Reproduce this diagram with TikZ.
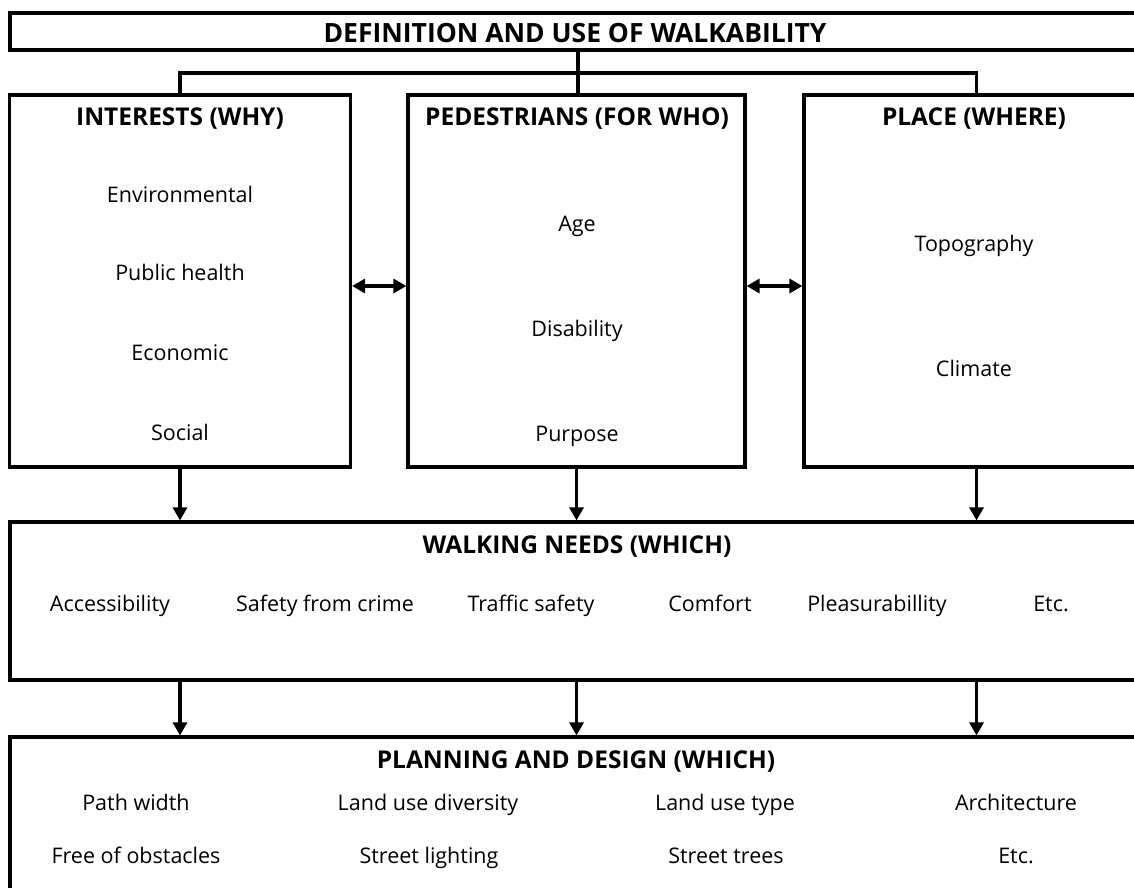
\documentclass[tikz,border=0pt]{standalone}
\usepackage{fontspec}
\setmainfont{Open Sans}
\usetikzlibrary{arrows.meta}
\begin{document}
\begin{tikzpicture}[x=1pt,y=-1pt,
  box/.style={draw,line width=3.2pt,inner sep=0pt},
  ttl/.style={font=\fontsize{24.5}{28}\selectfont\bfseries,inner sep=0pt,text height=17.5pt,text depth=0pt},
  bigttl/.style={font=\fontsize{26.5}{30}\selectfont\bfseries,inner sep=0pt,text height=18.9pt,text depth=0pt},
  itm/.style={font=\fontsize{21.5}{25}\selectfont,inner sep=0pt,text height=15.35pt,text depth=0pt},
  con/.style={line width=3.2pt},
  arr/.style={line width=3.2pt,-{Triangle[length=13pt,width=14pt]}},
  darr/.style={line width=3.2pt,{Triangle[length=13pt,width=14pt]}-{Triangle[length=13pt,width=14pt]}}]
\clip (0,0) rectangle (1134,887);
\fill[white] (0,0) rectangle (1134,887);
% boxes
\node[box,minimum width=1141pt,minimum height=37pt] (top) at (580.5,31.5) {};
\node[box,minimum width=341pt,minimum height=372pt] (b1) at (180,281) {};
\node[box,minimum width=337pt,minimum height=372pt] (b2) at (576.5,281) {};
\node[box,minimum width=345pt,minimum height=372pt] (b3) at (976.5,281) {};
\node[box,minimum width=1141pt,minimum height=158pt] (wn) at (580.5,601) {};
\node[box,minimum width=1141pt,minimum height=170pt] (pd) at (580.5,822) {};
% titles
\node[bigttl] (ttop) at (575,33) {DEFINITION AND USE OF WALKABILITY};
\node[ttl] (t1) at (180,116.5) {INTERESTS (WHY)};
\node[ttl] (t2) at (577,116.5) {PEDESTRIANS (FOR WHO)};
\node[ttl] (t3) at (974,116.5) {PLACE (WHERE)};
\node[ttl] (twn) at (577,545) {WALKING NEEDS (WHICH)};
\node[ttl] (tpd) at (576,760) {PLANNING AND DESIGN (WHICH)};
% box 1 items
\node[itm] (i1a) at (180,195) {Environmental};
\node[itm] (i1b) at (180,273) {Public health};
\node[itm] (i1c) at (180,353) {Economic};
\node[itm] (i1d) at (180,433) {Social};
% box 2 items
\node[itm] (i2a) at (577,224) {Age};
\node[itm] (i2b) at (577,329) {Disability};
\node[itm] (i2c) at (577,434) {Purpose};
% box 3 items
\node[itm] (i3a) at (974,244) {Topography};
\node[itm] (i3b) at (974,369) {Climate};
% walking needs items
\node[itm] (w1) at (110,604) {Accessibility};
\node[itm] (w2) at (325,604) {Safety from crime};
\node[itm] (w3) at (531,604) {Traffic safety};
\node[itm] (w4) at (710,604) {Comfort};
\node[itm] (w5) at (877,604) {Pleasurabillity};
\node[itm] (w6) at (1051,604) {Etc.};
% planning items
\node[itm] (p1) at (136,803) {Path width};
\node[itm] (p2) at (428,803) {Land use diversity};
\node[itm] (p3) at (725,803) {Land use type};
\node[itm] (p4) at (1016,803) {Architecture};
\node[itm] (p5) at (136,856) {Free of obstacles};
\node[itm] (p6) at (429,856) {Street lighting};
\node[itm] (p7) at (726,856) {Street trees};
\node[itm] (p8) at (1016,856) {Etc.};
% tree connectors
\coordinate (j) at (578,73);
\draw[con] (top.south -| j) -- (j);
\draw[con] (j) -| (b1.north);
\draw[con] (j) -| (b3.north);
\draw[con] (j) -- (b2.north -| j);
% double arrows
\draw[darr] ([yshift=-5pt]b1.east) -- ([yshift=-5pt]b2.west);
\draw[darr] ([yshift=-5pt]b2.east) -- ([yshift=-5pt]b3.west);
% down arrows
\draw[arr] (b1.south) -- (wn.north -| b1.south);
\draw[arr] (b2.south) -- (wn.north -| b2.south);
\draw[arr] (b3.south) -- (wn.north -| b3.south);
\draw[arr] (wn.south -| b1.south) -- (pd.north -| b1.south);
\draw[arr] (wn.south -| b2.south) -- (pd.north -| b2.south);
\draw[arr] (wn.south -| b3.south) -- (pd.north -| b3.south);
\end{tikzpicture}
\end{document}
